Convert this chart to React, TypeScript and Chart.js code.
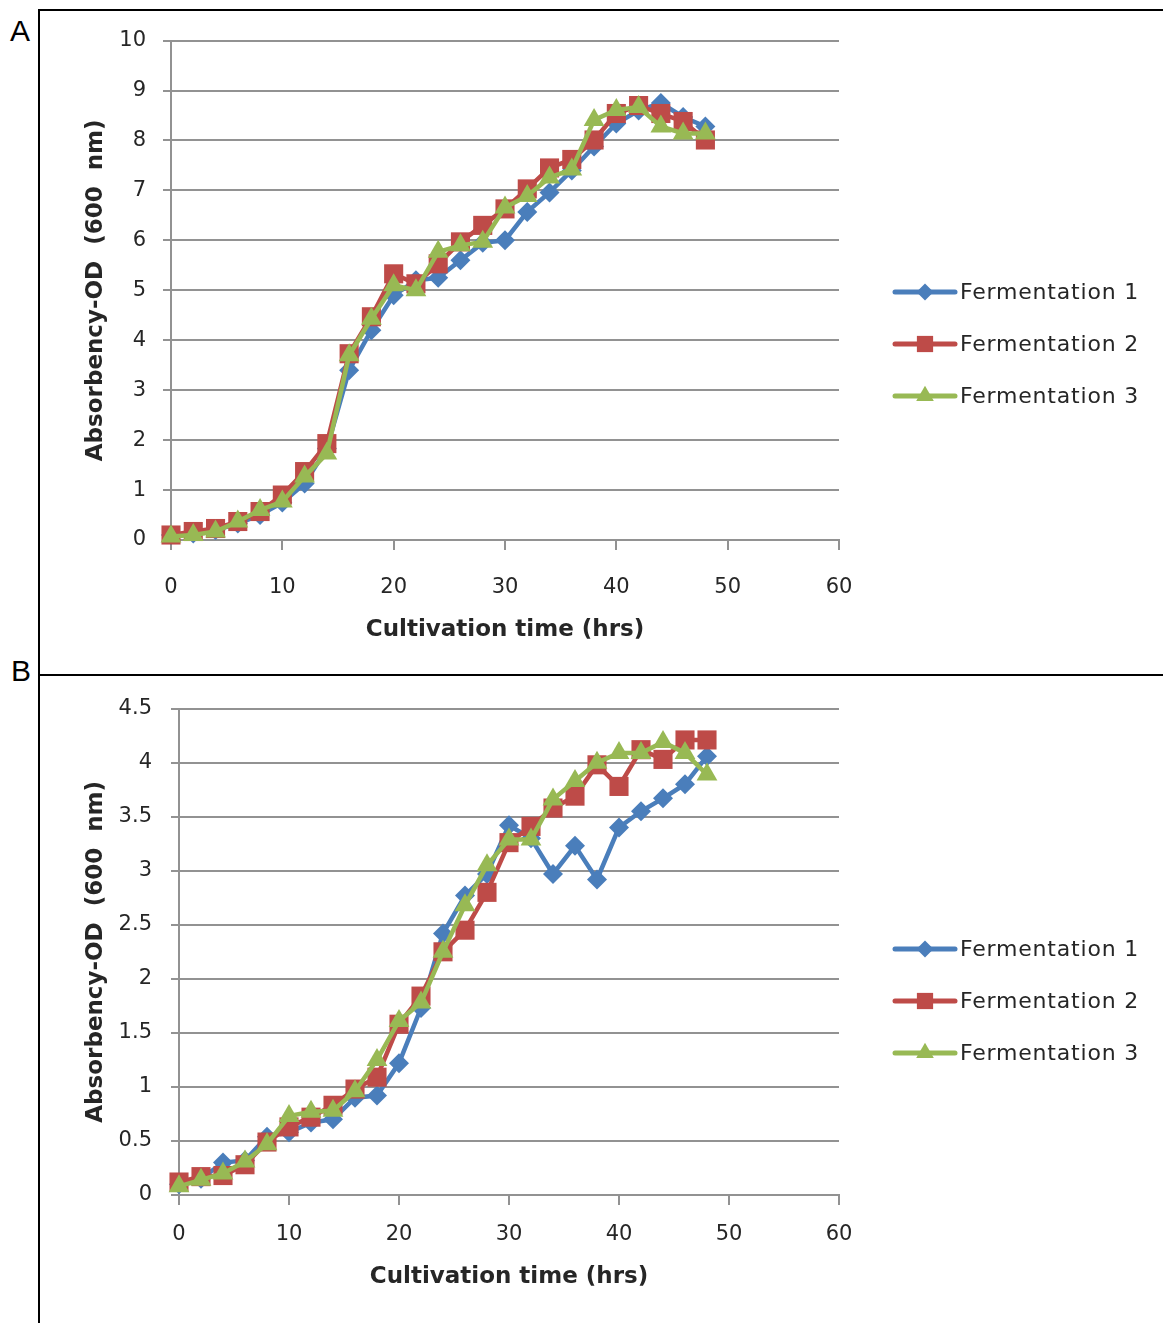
import React, { useEffect, useRef } from 'react';
import { Chart, registerables } from 'chart.js';

Chart.register(...registerables);

// ---- Data ----
const hours = [0, 2, 4, 6, 8, 10, 12, 14, 16, 18, 20, 22, 24, 26, 28, 30, 32, 34, 36, 38, 40, 42, 44, 46, 48];

const panelAFerm1 = [0.1, 0.13, 0.2, 0.33, 0.5, 0.75, 1.13, 1.83, 3.4, 4.2, 4.9, 5.2, 5.25, 5.6, 5.95, 6.0, 6.57, 6.96, 7.4, 7.88, 8.34, 8.6, 8.75, 8.47, 8.28];
const panelAFerm2 = [0.1, 0.17, 0.23, 0.37, 0.57, 0.9, 1.37, 1.93, 3.73, 4.47, 5.33, 5.13, 5.53, 5.97, 6.3, 6.63, 7.03, 7.45, 7.62, 8.01, 8.54, 8.7, 8.54, 8.38, 8.01];
const panelAFerm3 = [0.07, 0.1, 0.17, 0.37, 0.6, 0.77, 1.27, 1.73, 3.7, 4.43, 5.1, 5.0, 5.77, 5.9, 5.97, 6.66, 6.89, 7.26, 7.42, 8.41, 8.61, 8.67, 8.28, 8.14, 8.14];

const panelBFerm1 = [0.1, 0.15, 0.3, 0.32, 0.54, 0.58, 0.67, 0.7, 0.9, 0.92, 1.22, 1.73, 2.42, 2.77, 2.97, 3.42, 3.3, 2.97, 3.23, 2.92, 3.4, 3.55, 3.67, 3.8, 4.06];
const panelBFerm2 = [0.12, 0.17, 0.18, 0.28, 0.49, 0.63, 0.72, 0.83, 0.98, 1.09, 1.58, 1.84, 2.25, 2.45, 2.8, 3.26, 3.41, 3.58, 3.69, 3.98, 3.78, 4.12, 4.03, 4.21, 4.21];
const panelBFerm3 = [0.08, 0.14, 0.2, 0.31, 0.47, 0.73, 0.77, 0.78, 0.96, 1.25, 1.61, 1.78, 2.25, 2.68, 3.05, 3.29, 3.29, 3.66, 3.83, 4.0, 4.09, 4.09, 4.19, 4.09, 3.89];

const seriesNames = ['Fermentation 1', 'Fermentation 2', 'Fermentation 3'];
const seriesColors = ['#4A7EBB', '#BE4B48', '#98B954'];
const seriesMarkers = ['rectRot', 'rect', 'triangle'];
const seriesMarkerRadius = [10, 13.5, 12];

const xTitle = 'Cultivation time (hrs)';
const yTitle = 'Absorbency-OD  (600  nm)';

const FONT = "'DejaVu Sans', sans-serif";
const GRID = '#929292';
const TEXT = '#262626';

function drawMarker(ctx: CanvasRenderingContext2D, style: string, x: number, y: number, r: number, color: string) {
  ctx.fillStyle = color;
  ctx.beginPath();
  if (style === 'rectRot') {
    ctx.moveTo(x - r, y);
    ctx.lineTo(x, y - r);
    ctx.lineTo(x + r, y);
    ctx.lineTo(x, y + r);
  } else if (style === 'rect') {
    const s = r * Math.SQRT1_2;
    ctx.rect(x - s, y - s, 2 * s, 2 * s);
  } else {
    let a = 0;
    ctx.moveTo(x + Math.sin(a) * r, y - Math.cos(a) * r);
    a += (2 * Math.PI) / 3;
    ctx.lineTo(x + Math.sin(a) * r, y - Math.cos(a) * r);
    a += (2 * Math.PI) / 3;
    ctx.lineTo(x + Math.sin(a) * r, y - Math.cos(a) * r);
  }
  ctx.closePath();
  ctx.fill();
}

const legendPlugin = {
  id: 'sideLegend',
  afterDraw(chart: any, _args: any, opts: any) {
    const ctx = chart.ctx as CanvasRenderingContext2D;
    ctx.save();
    seriesNames.forEach((name, i) => {
      const y = opts.top + i * opts.gap;
      ctx.strokeStyle = seriesColors[i];
      ctx.lineWidth = 5;
      ctx.lineCap = 'round';
      ctx.beginPath();
      ctx.moveTo(opts.x1, y);
      ctx.lineTo(opts.x2, y);
      ctx.stroke();
      drawMarker(ctx, seriesMarkers[i], (opts.x1 + opts.x2) / 2, y, seriesMarkerRadius[i] * 0.85, seriesColors[i]);
      ctx.fillStyle = TEXT;
      ctx.font = `22px ${FONT}`;
      (ctx as any).letterSpacing = '0.8px';
      ctx.textAlign = 'left';
      ctx.textBaseline = 'middle';
      ctx.fillText(name, opts.textX, y + 1);
      (ctx as any).letterSpacing = '0px';
    });
    ctx.restore();
  },
};

type PanelProps = {
  top: number;
  height: number;
  values: number[][];
  yMax: number;
  yStep: number;
  padTop: number;
  yWidth: number;
  xHeight: number;
  yTickPad: number;
  xTickPad: number;
  xTitlePad: number;
  legendTop: number;
};

function Panel(p: PanelProps) {
  const ref = useRef<HTMLCanvasElement | null>(null);
  useEffect(() => {
    if (!ref.current) return;
    const datasets = p.values.map((vals, i) => ({
      label: seriesNames[i],
      data: hours.map((h, k) => ({ x: h, y: vals[k] })),
      borderColor: seriesColors[i],
      backgroundColor: seriesColors[i],
      borderWidth: 4.5,
      pointStyle: seriesMarkers[i] as any,
      pointRadius: seriesMarkerRadius[i],
      pointBorderWidth: 0,
      pointBackgroundColor: seriesColors[i],
      tension: 0,
      clip: false as any,
      order: 3 - i,
    }));
    const chart = new Chart(ref.current, {
      type: 'line',
      data: { datasets },
      plugins: [legendPlugin],
      options: {
        animation: false,
        responsive: false,
        events: [],
        layout: { padding: { top: p.padTop, right: 324, bottom: 0, left: 0 } },
        plugins: {
          legend: { display: false },
          tooltip: { enabled: false },
          sideLegend: { x1: 855, x2: 915, textX: 920, top: p.legendTop, gap: 52 },
        } as any,
        scales: {
          x: {
            type: 'linear',
            min: 0,
            max: 60,
            afterFit: (s: any) => { s.height = p.xHeight; },
            ticks: {
              stepSize: 10,
              padding: p.xTickPad,
              color: TEXT,
              font: { family: FONT, size: 21 },
              callback: (v: any) => String(v),
              maxRotation: 0,
            },
            grid: { drawOnChartArea: false, drawTicks: true, tickLength: 10, color: GRID, lineWidth: 2 },
            border: { display: true, color: GRID, width: 2 },
            title: {
              display: true,
              text: xTitle,
              color: TEXT,
              font: { family: FONT, size: 23, weight: 'bold' },
              padding: { top: 0, bottom: p.xTitlePad },
            },
          },
          y: {
            type: 'linear',
            min: 0,
            max: p.yMax,
            afterFit: (s: any) => { s.width = p.yWidth; },
            ticks: {
              stepSize: p.yStep,
              padding: p.yTickPad,
              color: TEXT,
              font: { family: FONT, size: 21 },
              callback: (v: any) => String(v),
            },
            grid: { drawTicks: true, tickLength: 8, color: GRID, lineWidth: 2 },
            border: { display: true, color: GRID, width: 2 },
            title: {
              display: true,
              text: yTitle,
              color: TEXT,
              font: { family: FONT, size: 23, weight: 'bold' },
              padding: { top: 42, bottom: 0 },
            },
          },
        },
      },
    });
    return () => chart.destroy();
  }, []);
  return (
    <canvas
      ref={ref}
      width={1123}
      height={p.height}
      style={{ position: 'absolute', left: 40, top: p.top, width: 1123, height: p.height }}
    />
  );
}

export default function App() {
  const letter: React.CSSProperties = {
    position: 'absolute',
    fontFamily: "'Liberation Sans', Arial, sans-serif",
    fontSize: 30,
    lineHeight: '30px',
    color: '#000',
  };
  return (
    <div style={{ position: 'absolute', left: 0, top: 0, width: 1163, height: 1323, background: '#fff', overflow: 'hidden' }}>
      <Panel
        top={11}
        height={663}
        values={[panelAFerm1, panelAFerm2, panelAFerm3]}
        yMax={10}
        yStep={1}
        padTop={29}
        yWidth={131}
        xHeight={134}
        yTickPad={17}
        xTickPad={25}
        xTitlePad={30}
        legendTop={281}
      />
      <Panel
        top={677}
        height={646}
        values={[panelBFerm1, panelBFerm2, panelBFerm3]}
        yMax={4.5}
        yStep={0.5}
        padTop={30}
        yWidth={139}
        xHeight={128}
        yTickPad={19}
        xTickPad={17}
        xTitlePad={32}
        legendTop={272}
      />
      <div style={{ position: 'absolute', left: 38, top: 9, width: 2, height: 1314, background: '#000' }} />
      <div style={{ position: 'absolute', left: 38, top: 9, width: 1125, height: 2, background: '#000' }} />
      <div style={{ position: 'absolute', left: 38, top: 674, width: 1125, height: 2, background: '#000' }} />
      <div style={{ ...letter, left: 10, top: 16 }}>A</div>
      <div style={{ ...letter, left: 11, top: 656 }}>B</div>
    </div>
  );
}
